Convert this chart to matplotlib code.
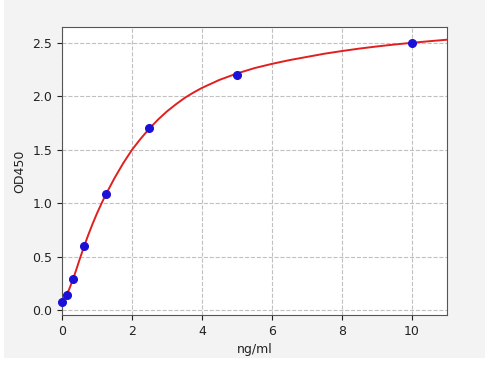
import matplotlib
matplotlib.use("Agg")
import matplotlib.pyplot as plt
from matplotlib.patches import Rectangle

# standard points
conc = [0, 0.156, 0.312, 0.625, 1.25, 2.5, 5, 10]
od = [0.078, 0.143, 0.287, 0.60, 1.083, 1.70, 2.20, 2.503]

# fitted curve
curve_x = [0, 0.1, 0.2, 0.3, 0.4, 0.5, 0.625, 0.75, 0.875, 1.0, 1.125, 1.25,
           1.5, 1.75, 2.0, 2.25, 2.5, 2.75, 3.0, 3.25, 3.5, 3.75, 4.0, 4.5,
           5.0, 5.5, 6.0, 6.5, 7.0, 7.5, 8.0, 8.5, 9.0, 9.5, 10.0, 10.5, 11.0]
curve_y = [0.09, 0.13, 0.19, 0.275, 0.37, 0.47, 0.59, 0.7025, 0.8075, 0.905,
           0.995, 1.08, 1.235, 1.375, 1.50, 1.605, 1.70, 1.785, 1.86, 1.925,
           1.985, 2.035, 2.08, 2.155, 2.215, 2.265, 2.305, 2.34, 2.37, 2.40,
           2.425, 2.448, 2.468, 2.486, 2.502, 2.517, 2.531]

fig = plt.figure(figsize=(4.92, 3.66), dpi=100)
fig.patch.set_facecolor("white")
fig.patches.append(Rectangle((4 / 492, 8 / 366), 481 / 492, 358 / 366,
                             transform=fig.transFigure, facecolor="#f3f3f3",
                             edgecolor="none", zorder=-10))

ax = fig.add_axes([62 / 492, 1 - 315 / 366, 385 / 492, 288 / 366])
ax.set_zorder(1)
ax.set_facecolor("white")
ax.plot(curve_x, curve_y, color="#e0201e", linewidth=1.4, zorder=3)
ax.plot(conc, od, "o", color="#1a10d8", markersize=5.5, zorder=4, clip_on=False)

ax.set_xlim(0, 11)
ax.set_ylim(-0.047, 2.65)
ax.set_xticks([0, 2, 4, 6, 8, 10])
ax.set_yticks([0.0, 0.5, 1.0, 1.5, 2.0, 2.5])
ax.set_yticklabels(["0.0", "0.5", "1.0", "1.5", "2.0", "2.5"])
ax.grid(True, linestyle="--", color="#c0c0c0", linewidth=0.8)
ax.set_axisbelow(True)
ax.tick_params(labelsize=9, colors="#222222")
for s in ax.spines.values():
    s.set_color("#555555")
ax.set_xlabel("ng/ml", fontsize=9, color="#222222")
ax.set_ylabel("OD450", fontsize=9, color="#222222")

fig.savefig("out.png", dpi=100)
